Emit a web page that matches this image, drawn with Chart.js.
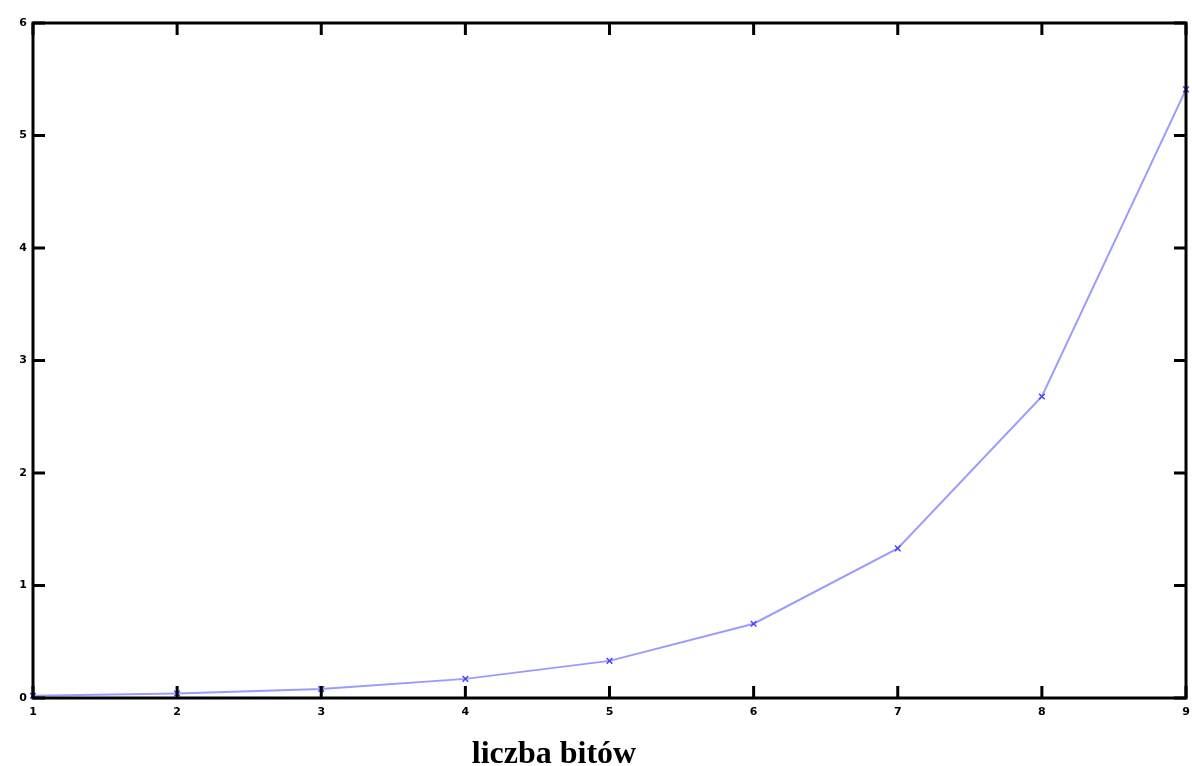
<!DOCTYPE html>
<html>
<head>
<meta charset="utf-8">
<script src="https://cdn.jsdelivr.net/npm/chart.js@4"></script>
<style>
  html, body { margin: 0; padding: 0; background: #fff; }
  #wrap { width: 1192px; height: 766px; }
</style>
</head>
<body>
<div id="wrap"><canvas id="chart" width="1192" height="766"></canvas></div>
<script>
const bits   = [1, 2, 3, 4, 5, 6, 7, 8, 9];
const values = [0.02, 0.04, 0.08, 0.17, 0.33, 0.66, 1.33, 2.68, 5.41];
const xTicks = [1, 2, 3, 4, 5, 6, 7, 8, 9];
const yTicks = [0, 1, 2, 3, 4, 5, 6];
const xTitle = 'liczba bitów';

// frame + inward ticks on all four sides, and the offset axis title
const framePlugin = {
  id: 'frame',
  afterDraw(chart) {
    const { ctx, chartArea: a, scales } = chart;
    ctx.save();
    ctx.strokeStyle = '#000';
    ctx.lineWidth = 3;
    ctx.strokeRect(a.left, a.top, a.right - a.left, a.bottom - a.top);
    const len = 12;
    ctx.beginPath();
    xTicks.forEach(v => {
      const px = scales.x.getPixelForValue(v);
      ctx.moveTo(px, a.bottom); ctx.lineTo(px, a.bottom - len);
      ctx.moveTo(px, a.top);    ctx.lineTo(px, a.top + len);
    });
    yTicks.forEach(v => {
      const py = scales.y.getPixelForValue(v);
      ctx.moveTo(a.left, py);  ctx.lineTo(a.left + len, py);
      ctx.moveTo(a.right, py); ctx.lineTo(a.right - len, py);
    });
    ctx.stroke();

    ctx.fillStyle = '#000';
    ctx.font = 'bold 32px "Liberation Serif", "Times New Roman", serif';
    ctx.textAlign = 'center';
    ctx.textBaseline = 'alphabetic';
    ctx.fillText(xTitle, 554, 763);
    ctx.restore();
  }
};

new Chart(document.getElementById('chart'), {
  type: 'line',
  data: {
    datasets: [{
      data: bits.map((b, i) => ({ x: b, y: values[i] })),
      borderColor: 'rgba(130,130,255,0.8)',
      borderWidth: 2,
      pointStyle: 'crossRot',
      pointRadius: 4,
      pointBorderColor: '#4444ff',
      pointBorderWidth: 1.5,
      tension: 0,
      clip: false
    }]
  },
  options: {
    responsive: false,
    animation: false,
    layout: { padding: { top: 23, right: 6, left: 0, bottom: 0 } },
    plugins: { legend: { display: false }, tooltip: { enabled: false } },
    scales: {
      x: {
        type: 'linear', min: 1, max: 9,
        afterBuildTicks: s => { s.ticks = xTicks.map(v => ({ value: v })); },
        afterFit: s => { s.height = 68; s.paddingLeft = 0; s.paddingRight = 0; },
        grid: { display: false, drawTicks: false },
        border: { display: false },
        ticks: { color: '#000', padding: 8, font: { family: 'DejaVu Sans', size: 11, weight: 'bold' } }
      },
      y: {
        min: 0, max: 6,
        afterBuildTicks: s => { s.ticks = yTicks.map(v => ({ value: v })); },
        afterFit: s => { s.width = 33; s.paddingTop = 0; s.paddingBottom = 0; },
        grid: { display: false, drawTicks: false },
        border: { display: false },
        ticks: { color: '#000', padding: 6, font: { family: 'DejaVu Sans', size: 11, weight: 'bold' } }
      }
    }
  },
  plugins: [framePlugin]
});
</script>
</body>
</html>
